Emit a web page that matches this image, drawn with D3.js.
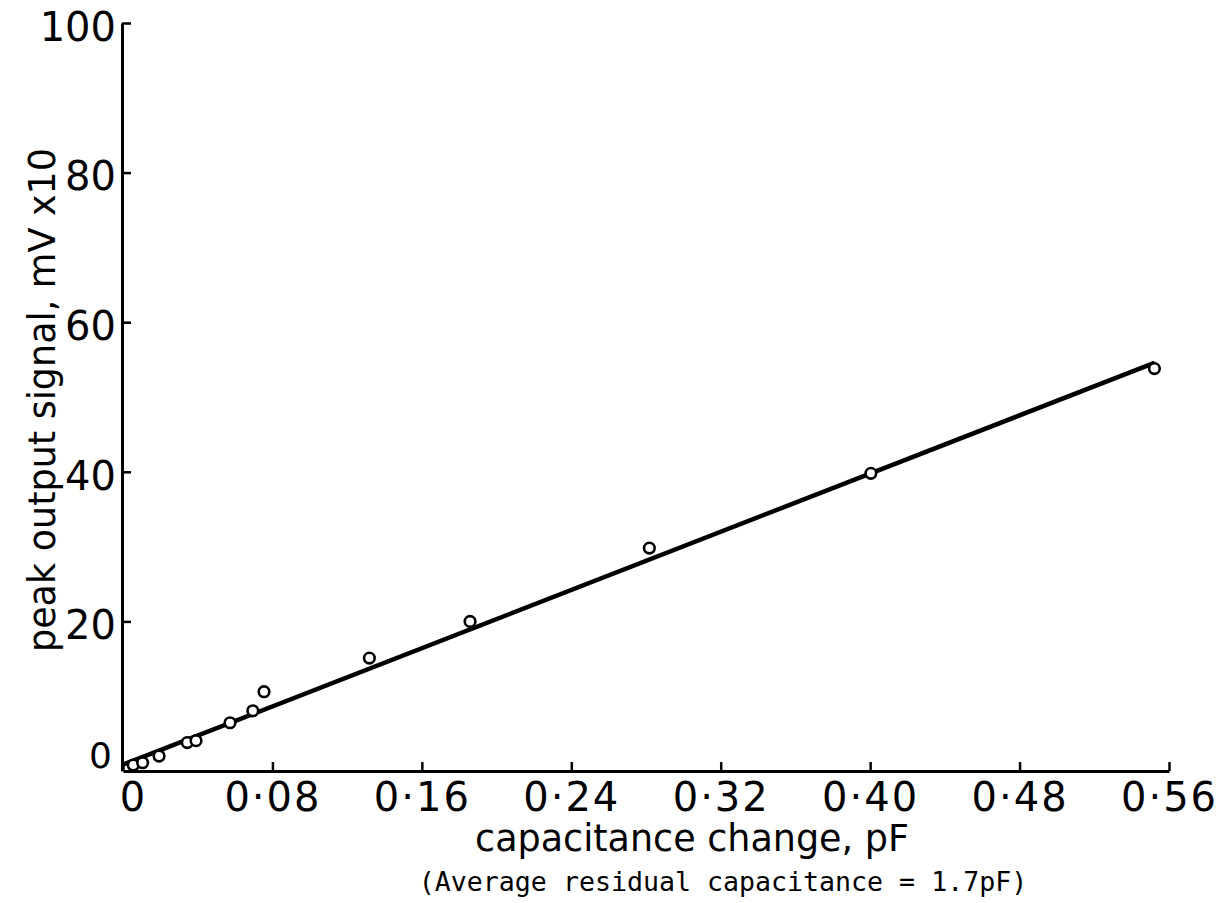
<!DOCTYPE html>
<html>
<head>
<meta charset="utf-8">
<script src="https://cdn.jsdelivr.net/npm/d3@7"></script>
<style>
  html, body { margin: 0; padding: 0; background: #fff; }
  svg { display: block; }
  .lbl { font-family: "DejaVu Sans", sans-serif; fill: #000; }
  .note { font-family: "DejaVu Sans Mono", monospace; fill: #000; }
</style>
</head>
<body>
<svg id="chart" width="1229" height="903"></svg>
<script>
// Measured capacitance change (pF) and peak output signal (mV x10)
const capChange = [0.0055, 0.0105, 0.0193, 0.0344, 0.0391, 0.0573, 0.0695, 0.0755, 0.1319, 0.1858, 0.2818, 0.4004, 0.5522];
const peakSignal = [0.8, 1.1, 2.0, 3.8, 4.05, 6.45, 8.05, 10.6, 15.1, 20.0, 29.8, 39.8, 53.8];

// Straight-line fit drawn through the points (end points)
const fitX = [0.001, 0.5515];
const fitY = [0.95, 54.5];

// Axis ticks
const xTicks = [0, 0.08, 0.16, 0.24, 0.32, 0.40, 0.48, 0.56];
const yTicks = [0, 20, 40, 60, 80, 100];

const xTitle = "capacitance change, pF";
const yTitle = "peak output signal, mV x10";
const note = "(Average residual capacitance = 1.7pF)";

const svg = d3.select("#chart");

const x = d3.scaleLinear().domain([0, 0.56]).range([123, 1169]);
const y = d3.scaleLinear().domain([0, 100]).range([771, 23]);

const fmtX = d => d === 0 ? "0" : d3.format(".2f")(d).replace(".", "\u00B7");

// x axis
const gx = svg.append("g")
  .attr("transform", `translate(0,${y(0)})`)
  .call(d3.axisBottom(x).tickValues(xTicks).tickFormat(fmtX)
    .tickSizeInner(-9).tickSizeOuter(0).tickPadding(12));
gx.select(".domain").attr("stroke-width", 3).attr("stroke", "#000");
gx.selectAll(".tick line").attr("stroke-width", 2.5).attr("stroke", "#000");
gx.selectAll(".tick text")
  .attr("class", "lbl")
  .attr("font-size", 40)
  .attr("letter-spacing", 2)
  .attr("dx", d => d === 0 ? 10 : 0);

// y axis
const gy = svg.append("g")
  .attr("transform", `translate(${x(0) - 1},0)`)
  .call(d3.axisLeft(y).tickValues(yTicks).tickFormat(d3.format("d"))
    .tickSizeInner(-9).tickSizeOuter(0).tickPadding(6));
gy.select(".domain").attr("stroke-width", 3).attr("stroke", "#000");
gy.selectAll(".tick line").attr("stroke-width", 2.5).attr("stroke", "#000")
  .attr("display", d => d === 0 ? "none" : null);
gy.selectAll(".tick text")
  .attr("class", "lbl")
  .attr("font-size", 40)
  .attr("dy", d => d === 0 ? "-0.1em" : "0.43em")
  .attr("dx", d => d === 0 ? -4 : 0);
gy.selectAll(".tick text").filter(d => d === 0).attr("font-size", 36);

// fitted line
const line = d3.line().x(d => x(d[0])).y(d => y(d[1]));
svg.append("path")
  .datum(d3.zip(fitX, fitY))
  .attr("d", line)
  .attr("fill", "none")
  .attr("stroke", "#000")
  .attr("stroke-width", 4.5)
  .attr("stroke-linecap", "round");

// data points
svg.append("g").selectAll("circle")
  .data(d3.zip(capChange, peakSignal))
  .join("circle")
  .attr("cx", d => x(d[0]))
  .attr("cy", d => y(d[1]))
  .attr("r", 5.3)
  .attr("fill", "#fff")
  .attr("stroke", "#000")
  .attr("stroke-width", 2.6);

// axis titles
svg.append("text")
  .attr("class", "lbl")
  .attr("x", 692).attr("y", 851)
  .attr("text-anchor", "middle")
  .attr("font-size", 36.5)
  .text(xTitle);

svg.append("text")
  .attr("class", "lbl")
  .attr("transform", "translate(55,400) rotate(-90)")
  .attr("text-anchor", "middle")
  .attr("font-size", 36.5)
  .text(yTitle);

svg.append("text")
  .attr("class", "note")
  .attr("x", 723).attr("y", 891)
  .attr("text-anchor", "middle")
  .attr("font-size", 26.6)
  .text(note);
</script>
</body>
</html>
